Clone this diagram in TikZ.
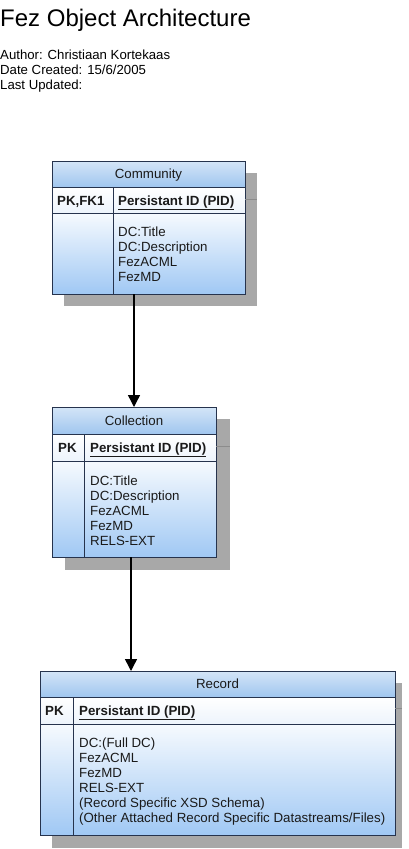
\documentclass[tikz,border=0pt]{standalone}
\usepackage{fontspec}
\setmainfont{Liberation Sans}
\usetikzlibrary{arrows.meta}
\definecolor{headtop}{HTML}{D4E5F7}
\definecolor{headbot}{HTML}{A0C6EF}
\definecolor{bodytop}{HTML}{F6FAFE}
\definecolor{bodybot}{HTML}{A0C8F4}
\definecolor{pktop}{HTML}{FFFFFF}
\definecolor{pkbot}{HTML}{EDF4FC}
\definecolor{edge}{HTML}{26334D}
\definecolor{shade}{HTML}{A8A8A8}
\definecolor{shadeline}{HTML}{8C8C8C}
\definecolor{txt}{HTML}{1A1A1A}
\begin{document}
\begin{tikzpicture}[x=1pt,y=-1pt,
  cell/.style={draw=edge, line width=0.9pt, anchor=north west, inner sep=0pt, outer sep=0pt},
  headcell/.style={cell, top color=headtop, bottom color=headbot},
  pkcell/.style={cell, top color=pktop, bottom color=pkbot},
  bodycell/.style={cell, top color=bodytop, bottom color=bodybot},
  shadowbox/.style={fill=shade, draw=none},
  shadowrule/.style={draw=shadeline, line width=0.6pt},
  divline/.style={draw=edge, line width=0.9pt},
  boxtitle/.style={inner sep=0pt, anchor=base, text=txt, font=\fontsize{13.3}{15}\selectfont},
  keytext/.style={inner sep=0pt, anchor=base west, text=txt, font=\fontsize{13.3}{15}\selectfont\bfseries},
  attrtext/.style={inner sep=0pt, anchor=base west, text=txt, font=\fontsize{13.3}{15}\selectfont},
  headtext/.style={inner sep=0pt, anchor=base west, text=black, font=\fontsize{13.2}{15}\selectfont},
  link/.style={draw=black, line width=1.4pt, -{Triangle[width=12pt,length=12pt]}}
]
\useasboundingbox (0,0) rectangle (408,849);

% ---------- heading ----------
\node[inner sep=0pt, anchor=base west, font=\fontsize{24}{28}\selectfont] (title) at (0,26.5) {Fez Object Architecture};
\node[headtext] (author) at (0,59) {Author: Christiaan Kortekaas};
\node[headtext] (created) at (0,74) {Date Created: 15/6/2005};
\node[headtext] (updated) at (0,89) {Last Updated:};

% ---------- Community ----------
\fill[shadowbox] (64,173) rectangle (257,306);
\node[headcell, minimum width=193pt, minimum height=26pt] (comm-head) at (52,161) {};
\node[pkcell, minimum width=193pt, minimum height=26pt] (comm-pkrow) at (52,187) {};
\node[bodycell, minimum width=193pt, minimum height=81pt] (comm-body) at (52,213) {};
\coordinate (comm-div) at (113,187);
\draw[divline] (comm-div) -- (comm-div |- comm-body.south);
\node[boxtitle] (comm-title) at (148.5,178.6) {Community};
\node[keytext] (comm-pk) at (57,205) {PK,FK1};
\node[keytext] (comm-pid) at (118,205) {\underline{Persistant ID (PID)}};
\foreach \t [count=\i] in {DC:Title,DC:Description,FezACML,FezMD}
  \node[attrtext] (comm-a\i) at (118,{236+15*(\i-1)}) {\t};

% ---------- Collection ----------
\fill[shadowbox] (65,419) rectangle (230,570);
\node[headcell, minimum width=164pt, minimum height=27pt] (coll-head) at (52,407) {};
\node[pkcell, minimum width=164pt, minimum height=27pt] (coll-pkrow) at (52,434) {};
\node[bodycell, minimum width=164pt, minimum height=96pt] (coll-body) at (52,461) {};
\coordinate (coll-div) at (84,434);
\draw[divline] (coll-div) -- (coll-div |- coll-body.south);
\node[boxtitle] (coll-title) at (134,425) {Collection};
\node[keytext] (coll-pk) at (58,452) {PK};
\node[keytext] (coll-pid) at (90,452) {\underline{Persistant ID (PID)}};
\foreach \t [count=\i] in {DC:Title,DC:Description,FezACML,FezMD,RELS-EXT}
  \node[attrtext] (coll-a\i) at (90,{485+15.2*(\i-1)}) {\t};

% ---------- Record ----------
\fill[shadowbox] (52,683) rectangle (402,848);
\node[headcell, minimum width=355pt, minimum height=26pt] (rec-head) at (40,671) {};
\node[pkcell, minimum width=355pt, minimum height=27pt] (rec-pkrow) at (40,697) {};
\node[bodycell, minimum width=355pt, minimum height=111pt] (rec-body) at (40,724) {};
\coordinate (rec-div) at (73,697);
\draw[divline] (rec-div) -- (rec-div |- rec-body.south);
\node[boxtitle] (rec-title) at (217.5,688.6) {Record};
\node[keytext] (rec-pk) at (45,715) {PK};
\node[keytext] (rec-pid) at (79,715) {\underline{Persistant ID (PID)}};
\foreach \t [count=\i] in {DC:(Full DC),FezACML,FezMD,RELS-EXT,{(Record Specific XSD Schema)},{(Other Attached Record Specific Datastreams/Files)}}
  \node[attrtext] (rec-a\i) at (79,{747.5+15*(\i-1)}) {\t};

% shadow rules (header line shadows)
\draw[shadowrule] ([yshift=-12pt]comm-head.south east) -- ++(12,0);
\draw[shadowrule] ([yshift=-12pt]coll-head.south east) -- ++(14,0);
\draw[shadowrule] ([yshift=-11pt]rec-head.south east) -- ++(7,0);

% ---------- connectors ----------
\coordinate (c1) at (134,0);
\coordinate (c2) at (131,0);
\draw[link] (comm-body.south -| c1) -- (coll-head.north -| c1);
\draw[link] (coll-body.south -| c2) -- (rec-head.north -| c2);
\end{tikzpicture}
\end{document}
